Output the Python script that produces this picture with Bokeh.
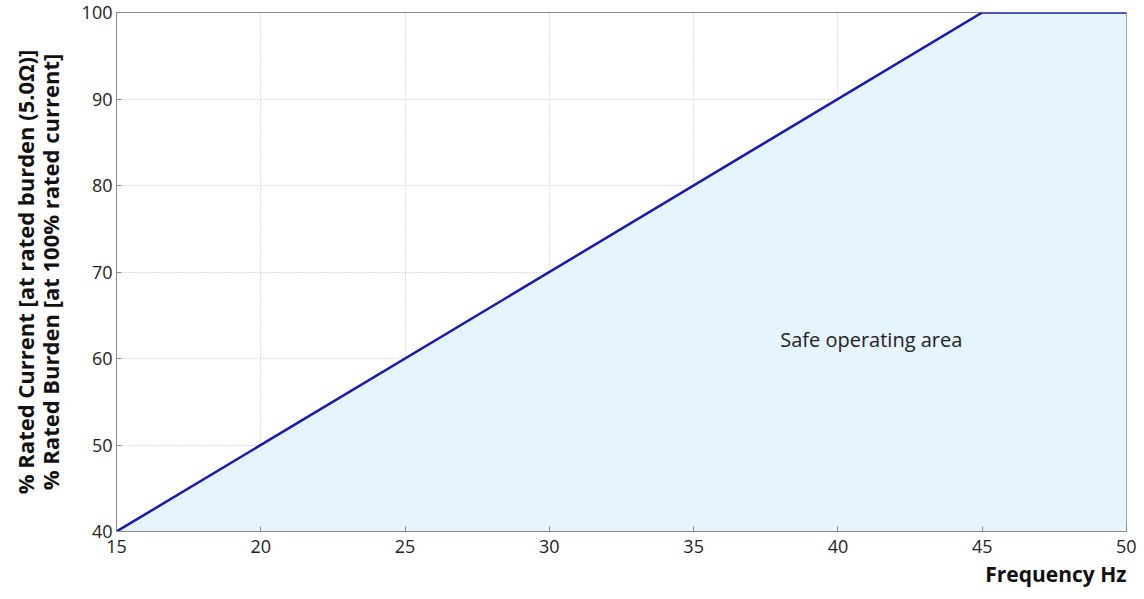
from bokeh.plotting import figure
from bokeh.models import Range1d, FixedTicker, Label, Title, LinearAxis
from bokeh.embed import file_html
from bokeh.resources import INLINE

freq = [15, 45, 50]
pct = [40, 100, 100]
x_ticks = [15, 20, 25, 30, 35, 40, 45, 50]
y_ticks = [40, 50, 60, 70, 80, 90, 100]
note_x, note_y = 38.0, 62.2
note_text = "Safe operating area"
y_label_1 = "% Rated Current [at rated burden (5.0\u03a9)]"
y_label_2 = "% Rated Burden [at 100% rated current]"
x_label = "Frequency Hz"

FONT = "Open Sans"

p = figure(width=1136, height=591, output_backend="svg", toolbar_location=None,
           x_range=Range1d(15, 50), y_range=Range1d(40, 100),
           min_border_left=116, min_border_right=10, min_border_top=12, min_border_bottom=60)

p.varea(x=freq, y1=[40] * len(freq), y2=pct, fill_color="#e6f4fd", fill_alpha=1.0)
p.line(freq, pct, line_color="#1818b4", line_width=2.5)

p.add_layout(Label(x=note_x, y=note_y, text=note_text, text_font=FONT, text_font_size="20px",
                   text_color="#222222", text_baseline="middle", text_align="left"))

for ax in (p.xaxis[0], p.yaxis[0]):
    ax.major_label_text_font = FONT
    ax.major_label_text_font_size = "18px"
    ax.major_label_text_color = "#222222"
    ax.axis_line_color = "#8a8a8a"
    ax.major_tick_line_color = "#8a8a8a"
    ax.major_tick_in = 5
    ax.major_tick_out = 0
    ax.minor_tick_line_color = None

p.xaxis.ticker = FixedTicker(ticks=x_ticks)
p.yaxis.ticker = FixedTicker(ticks=y_ticks)
p.xaxis.major_label_standoff = 8
p.yaxis.major_label_standoff = 4

p.yaxis.axis_label = y_label_2
p.yaxis.axis_label_text_font = FONT
p.yaxis.axis_label_text_font_size = "22px"
p.yaxis.axis_label_text_font_style = "bold"
p.yaxis.axis_label_text_color = "#111111"
p.yaxis.axis_label_standoff = 14

extra = LinearAxis(ticker=FixedTicker(ticks=[]), axis_label=y_label_1,
                   axis_label_text_font=FONT, axis_label_text_font_size="22px",
                   axis_label_text_font_style="bold", axis_label_text_color="#111111",
                   axis_label_standoff=-8, axis_line_color=None, major_tick_line_color=None,
                   minor_tick_line_color=None, major_label_text_font_size="0px")
p.add_layout(extra, "left")

p.add_layout(Title(text=x_label, align="right", text_font=FONT, text_font_size="21px",
                   text_font_style="bold", text_color="#111111", standoff=4), "below")

p.xgrid.grid_line_color = "#bdbdbd"
p.ygrid.grid_line_color = "#bdbdbd"
p.xgrid.grid_line_dash = "1 2"
p.ygrid.grid_line_dash = "1 2"

p.outline_line_color = "#8a8a8a"
p.outline_line_width = 1
p.background_fill_color = "white"
p.border_fill_color = "white"

open("out.html", "w").write(file_html(p, INLINE))
